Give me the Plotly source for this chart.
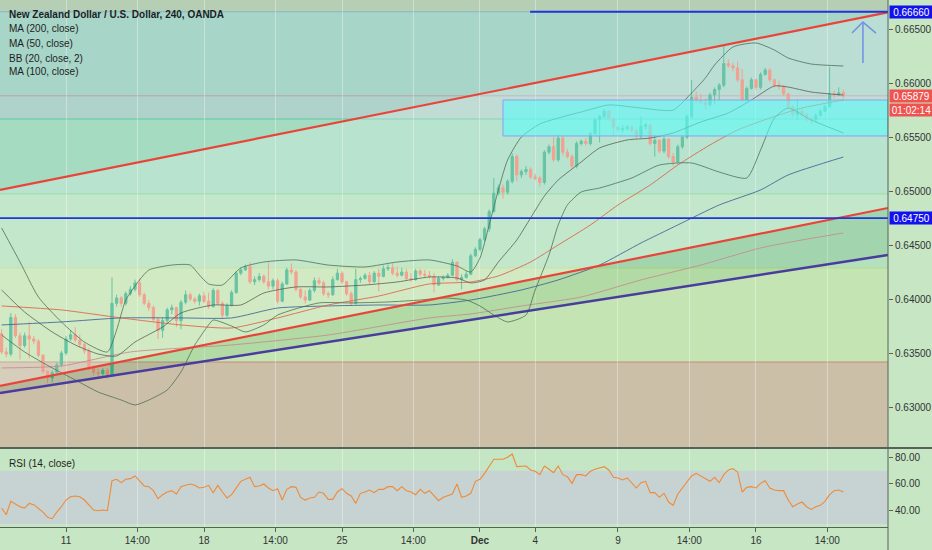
import pandas as pd
import plotly.graph_objects as go
from plotly.subplots import make_subplots


# NZDUSD 240 (OANDA) - 4h candles, weekends skipped
times = [t for t in pd.date_range('2019-11-06 16:00', '2019-12-19 04:00', freq='4h') if t.dayofweek < 5]
view_start, view_end = '2019-11-06 14:36', '2019-12-20 18:48'

opens = [
    0.6368, 0.6351, 0.6349, 0.6383, 0.6366, 0.6357, 0.6366, 0.6363, 0.6361, 0.6348,
    0.6333, 0.6327, 0.6332, 0.6339, 0.6350, 0.6363, 0.6367, 0.6362, 0.6358, 0.6352,
    0.6337, 0.6332, 0.6331, 0.6334, 0.6330, 0.6396, 0.6401, 0.6396, 0.6405, 0.6409,
    0.6415, 0.6404, 0.6396, 0.6392, 0.6381, 0.6371, 0.6380, 0.6390, 0.6392, 0.6380,
    0.6397, 0.6404, 0.6400, 0.6398, 0.6403, 0.6398, 0.6393, 0.6408, 0.6396, 0.6385,
    0.6394, 0.6406, 0.6424, 0.6427, 0.6430, 0.6416, 0.6418, 0.6421, 0.6416, 0.6412,
    0.6417, 0.6398, 0.6414, 0.6427, 0.6425, 0.6409, 0.6402, 0.6399, 0.6408, 0.6417,
    0.6415, 0.6405, 0.6404, 0.6418, 0.6424, 0.6416, 0.6405, 0.6396, 0.6418, 0.6419,
    0.6422, 0.6416, 0.6424, 0.6421, 0.6428, 0.6429, 0.6424, 0.6422, 0.6425, 0.6419,
    0.6418, 0.6426, 0.6423, 0.6422, 0.6421, 0.6413, 0.6419, 0.6420, 0.6422, 0.6434,
    0.6418, 0.6420, 0.6423, 0.6440, 0.6446, 0.6455, 0.6465, 0.6481, 0.6498, 0.6503,
    0.6499, 0.6509, 0.6532, 0.6515, 0.6518, 0.6520, 0.6513, 0.6512, 0.6508, 0.6536,
    0.6541, 0.6529, 0.6549, 0.6536, 0.6532, 0.6523, 0.6544, 0.6546, 0.6544, 0.6553,
    0.6566, 0.6569, 0.6574, 0.6567, 0.6559, 0.6557, 0.6558, 0.6559, 0.6556, 0.6551,
    0.6560, 0.6561, 0.6544, 0.6547, 0.6537, 0.6548, 0.6532, 0.6527, 0.6541, 0.6550,
    0.6569, 0.6587, 0.6584, 0.6582, 0.6580, 0.6589, 0.6594, 0.6598, 0.6618, 0.6616,
    0.6614, 0.6603, 0.6584, 0.6595, 0.6603, 0.6596, 0.6608, 0.6612, 0.6603, 0.6598,
    0.6597, 0.6590, 0.6578, 0.6571, 0.6574, 0.6571, 0.6567, 0.6566, 0.6570, 0.6574,
    0.6578, 0.6590, 0.6589, 0.6591,
]
highs = [
    0.6372, 0.6355, 0.6387, 0.6386, 0.6369, 0.6369, 0.6379, 0.6366, 0.6363, 0.6349,
    0.6334, 0.6334, 0.6341, 0.6352, 0.6366, 0.6371, 0.6374, 0.6367, 0.6360, 0.6355,
    0.6339, 0.6335, 0.6336, 0.6336, 0.6420, 0.6404, 0.6403, 0.6407, 0.6412, 0.6418,
    0.6419, 0.6406, 0.6399, 0.6394, 0.6383, 0.6383, 0.6392, 0.6395, 0.6393, 0.6399,
    0.6408, 0.6406, 0.6402, 0.6405, 0.6407, 0.6406, 0.6410, 0.6409, 0.6398, 0.6396,
    0.6408, 0.6426, 0.6429, 0.6432, 0.6434, 0.6421, 0.6424, 0.6423, 0.6434, 0.6419,
    0.6419, 0.6416, 0.6429, 0.6433, 0.6427, 0.6410, 0.6408, 0.6410, 0.6420, 0.6420,
    0.6417, 0.6407, 0.6421, 0.6428, 0.6426, 0.6417, 0.6407, 0.6428, 0.6421, 0.6424,
    0.6425, 0.6426, 0.6428, 0.6431, 0.6432, 0.6433, 0.6430, 0.6429, 0.6428, 0.6424,
    0.6428, 0.6428, 0.6427, 0.6426, 0.6424, 0.6421, 0.6422, 0.6424, 0.6437, 0.6435,
    0.6423, 0.6426, 0.6442, 0.6448, 0.6457, 0.6467, 0.6483, 0.6512, 0.6506, 0.6506,
    0.6511, 0.6535, 0.6534, 0.6520, 0.6523, 0.6522, 0.6516, 0.6514, 0.6538, 0.6543,
    0.6550, 0.6552, 0.6551, 0.6539, 0.6534, 0.6546, 0.6548, 0.6549, 0.6555, 0.6568,
    0.6571, 0.6576, 0.6575, 0.6568, 0.6560, 0.6561, 0.6561, 0.6561, 0.6558, 0.6569,
    0.6563, 0.6562, 0.6552, 0.6548, 0.6551, 0.6549, 0.6535, 0.6543, 0.6552, 0.6571,
    0.6603, 0.6592, 0.6590, 0.6586, 0.6591, 0.6596, 0.6600, 0.6635, 0.6622, 0.6619,
    0.6620, 0.6613, 0.6597, 0.6605, 0.6604, 0.6610, 0.6614, 0.6614, 0.6604, 0.6602,
    0.6598, 0.6591, 0.6580, 0.6585, 0.6577, 0.6573, 0.6569, 0.6572, 0.6576, 0.6580,
    0.6615, 0.6593, 0.6596, 0.6594,
]
lows = [
    0.6349, 0.6346, 0.6347, 0.6364, 0.6344, 0.6355, 0.6345, 0.6358, 0.6346, 0.6331,
    0.6322, 0.6323, 0.6330, 0.6337, 0.6348, 0.6361, 0.6360, 0.6355, 0.6349, 0.6334,
    0.6329, 0.6327, 0.6329, 0.6326, 0.6328, 0.6393, 0.6393, 0.6394, 0.6403, 0.6407,
    0.6402, 0.6394, 0.6389, 0.6379, 0.6363, 0.6364, 0.6378, 0.6386, 0.6374, 0.6372,
    0.6395, 0.6398, 0.6396, 0.6394, 0.6396, 0.6391, 0.6392, 0.6394, 0.6382, 0.6383,
    0.6393, 0.6405, 0.6422, 0.6426, 0.6414, 0.6413, 0.6416, 0.6414, 0.6409, 0.6409,
    0.6396, 0.6397, 0.6413, 0.6423, 0.6407, 0.6400, 0.6396, 0.6398, 0.6406, 0.6413,
    0.6403, 0.6401, 0.6403, 0.6417, 0.6414, 0.6403, 0.6394, 0.6395, 0.6415, 0.6418,
    0.6414, 0.6415, 0.6407, 0.6420, 0.6426, 0.6422, 0.6420, 0.6421, 0.6417, 0.6416,
    0.6417, 0.6421, 0.6420, 0.6419, 0.6406, 0.6412, 0.6417, 0.6419, 0.6421, 0.6416,
    0.6409, 0.6419, 0.6422, 0.6439, 0.6444, 0.6453, 0.6462, 0.6480, 0.6496, 0.6493,
    0.6497, 0.6507, 0.6509, 0.6512, 0.6515, 0.6511, 0.6510, 0.6504, 0.6506, 0.6534,
    0.6527, 0.6527, 0.6533, 0.6530, 0.6521, 0.6521, 0.6542, 0.6542, 0.6542, 0.6552,
    0.6545, 0.6567, 0.6565, 0.6551, 0.6555, 0.6554, 0.6556, 0.6554, 0.6549, 0.6549,
    0.6557, 0.6542, 0.6532, 0.6535, 0.6535, 0.6530, 0.6523, 0.6526, 0.6539, 0.6548,
    0.6567, 0.6581, 0.6580, 0.6575, 0.6578, 0.6580, 0.6584, 0.6596, 0.6614, 0.6611,
    0.6601, 0.6582, 0.6583, 0.6594, 0.6594, 0.6594, 0.6607, 0.6601, 0.6596, 0.6594,
    0.6588, 0.6576, 0.6568, 0.6566, 0.6569, 0.6564, 0.6562, 0.6564, 0.6569, 0.6573,
    0.6577, 0.6586, 0.6588, 0.6586,
]
closes = [
    0.6351, 0.6349, 0.6383, 0.6366, 0.6357, 0.6366, 0.6363, 0.6361, 0.6348, 0.6333,
    0.6327, 0.6332, 0.6339, 0.6350, 0.6363, 0.6367, 0.6362, 0.6358, 0.6352, 0.6337,
    0.6332, 0.6331, 0.6334, 0.6330, 0.6396, 0.6401, 0.6396, 0.6405, 0.6409, 0.6415,
    0.6404, 0.6396, 0.6392, 0.6381, 0.6371, 0.6380, 0.6390, 0.6392, 0.6380, 0.6397,
    0.6404, 0.6400, 0.6398, 0.6403, 0.6398, 0.6393, 0.6408, 0.6396, 0.6385, 0.6394,
    0.6406, 0.6424, 0.6427, 0.6430, 0.6416, 0.6418, 0.6421, 0.6416, 0.6412, 0.6417,
    0.6398, 0.6414, 0.6427, 0.6425, 0.6409, 0.6402, 0.6399, 0.6408, 0.6417, 0.6415,
    0.6405, 0.6404, 0.6418, 0.6424, 0.6416, 0.6405, 0.6396, 0.6418, 0.6419, 0.6422,
    0.6416, 0.6424, 0.6421, 0.6428, 0.6429, 0.6424, 0.6422, 0.6425, 0.6419, 0.6418,
    0.6426, 0.6423, 0.6422, 0.6421, 0.6413, 0.6419, 0.6420, 0.6422, 0.6434, 0.6418,
    0.6420, 0.6423, 0.6440, 0.6446, 0.6455, 0.6465, 0.6481, 0.6498, 0.6503, 0.6499,
    0.6509, 0.6532, 0.6515, 0.6518, 0.6520, 0.6513, 0.6512, 0.6508, 0.6536, 0.6541,
    0.6529, 0.6549, 0.6536, 0.6532, 0.6523, 0.6544, 0.6546, 0.6544, 0.6553, 0.6566,
    0.6569, 0.6574, 0.6567, 0.6559, 0.6557, 0.6558, 0.6559, 0.6556, 0.6551, 0.6560,
    0.6561, 0.6544, 0.6547, 0.6537, 0.6548, 0.6532, 0.6527, 0.6541, 0.6550, 0.6569,
    0.6587, 0.6584, 0.6582, 0.6580, 0.6589, 0.6594, 0.6598, 0.6618, 0.6616, 0.6614,
    0.6603, 0.6584, 0.6595, 0.6603, 0.6596, 0.6608, 0.6612, 0.6603, 0.6598, 0.6597,
    0.6590, 0.6578, 0.6571, 0.6574, 0.6571, 0.6567, 0.6566, 0.6570, 0.6574, 0.6578,
    0.6590, 0.6589, 0.6591, 0.6588,
]
rsi = [
    42, 37, 47, 45, 43, 42, 45.5, 44.5, 42, 39,
    35, 34, 39, 43, 48, 50.5, 51, 50.5, 48, 44,
    40.5, 40, 40.5, 40, 62.5, 63.5, 61, 63.5, 64, 66,
    62, 58.5, 58, 55, 49, 52, 54, 55, 52.5, 58,
    59, 60, 59, 57, 57.5, 59, 53.5, 59, 54, 49.5,
    52, 57, 62, 63.5, 65, 58, 58.5, 60, 57, 55,
    56.5, 48, 56, 58, 57.5, 50, 48, 49.5, 50, 54,
    53, 48.5, 48.5, 54, 56.5, 53, 51, 45.5, 53, 54,
    55.5, 53.5, 56, 56, 58, 58, 55, 58, 55, 54,
    52, 56, 53, 55, 51, 47.5, 50, 51, 52.5, 60,
    50, 51, 53, 62, 63.5, 68, 73.5, 78.5, 78.5, 78.5,
    80, 82.5, 73, 73, 73.5, 70.5, 69.5, 67, 73.5, 71,
    68.5, 73.5, 67, 65.5, 60.5, 67, 67, 66, 69.5, 71,
    72, 73, 70.5, 65, 64.5, 63, 64.5, 61, 57, 61,
    62, 53.5, 53.5, 50, 53, 46.5, 44, 52.5, 57, 61,
    66, 68, 66, 63.5, 62, 65, 61, 67, 70.5, 71.5,
    69, 54, 57.5, 58, 57, 60.5, 62.5, 57, 55.5, 55,
    55, 48, 43, 45, 46.5, 43, 41, 43, 44, 47,
    52, 55, 55.5, 54,
]

# indicator readings (candle index -> value)
bb_upper_idx = [0, 4, 8, 13, 18, 23, 25, 27, 30, 32, 37, 41, 43, 45, 48, 52, 57, 64, 71, 79,
                86, 93, 99, 102, 104, 106, 108, 110, 113, 117, 121, 126, 132, 139, 146, 150,
                153, 155, 159, 164, 168, 171, 176, 183]
bb_upper = [0.64658, 0.64343, 0.64019, 0.63788, 0.63602, 0.63510, 0.63714, 0.63991, 0.64177, 0.64269,
            0.64315, 0.64315, 0.64223, 0.64140, 0.64130, 0.64288, 0.64343, 0.64362, 0.64315, 0.64297,
            0.64343, 0.64362, 0.64306, 0.64250, 0.64380, 0.64686, 0.65010, 0.65288, 0.65501, 0.65621,
            0.65676, 0.65732, 0.65797, 0.65769, 0.65750, 0.65908, 0.66047, 0.66167, 0.66334, 0.66371,
            0.66306, 0.66232, 0.66176, 0.66158]
bb_lower_idx = [0, 5, 11, 16, 21, 26, 29, 32, 36, 39, 42, 45, 46, 50, 53, 57, 60, 69, 76, 84,
                91, 96, 101, 104, 107, 110, 114, 116, 119, 121, 123, 126, 130, 137, 143, 150,
                156, 162, 165, 168, 171, 176, 183]
bb_lower = [0.63667, 0.63510, 0.63362, 0.63251, 0.63139, 0.63065, 0.63019, 0.63065, 0.63158, 0.63325,
            0.63575, 0.63760, 0.63806, 0.63750, 0.63695, 0.63760, 0.63852, 0.63964, 0.63964, 0.63973,
            0.63991, 0.64010, 0.63991, 0.63936, 0.63852, 0.63788, 0.63852, 0.64084, 0.64408, 0.64686,
            0.64871, 0.64991, 0.65028, 0.65121, 0.65241, 0.65260, 0.65176, 0.65121, 0.65380, 0.65676,
            0.65769, 0.65658, 0.65538]
bb_mid_idx = [0, 5, 11, 16, 21, 25, 29, 35, 39, 46, 52, 57, 64, 71, 79, 86, 93, 99, 102, 105,
              108, 112, 115, 118, 121, 126, 130, 136, 141, 146, 152, 158, 163, 168, 171, 176, 183]
bb_mid = [0.64084, 0.63880, 0.63695, 0.63575, 0.63491, 0.63473, 0.63602, 0.63741, 0.63871, 0.63945,
          0.63945, 0.64056, 0.64112, 0.64112, 0.64130, 0.64158, 0.64204, 0.64195, 0.64149, 0.64177,
          0.64343, 0.64547, 0.64751, 0.64954, 0.65102, 0.65269, 0.65399, 0.65473, 0.65491, 0.65538,
          0.65640, 0.65723, 0.65843, 0.65973, 0.65963, 0.65917, 0.65889]
ma50_idx = [0, 13, 26, 39, 50, 60, 71, 82, 93, 102, 108, 115, 121, 128, 134, 141, 147, 154, 160,
            167, 174, 183]
ma50 = [0.63936, 0.63899, 0.63825, 0.63760, 0.63732, 0.63825, 0.63945, 0.64028, 0.64140, 0.64158,
        0.64214, 0.64343, 0.64501, 0.64686, 0.64871, 0.65056, 0.65241, 0.65427, 0.65565, 0.65676,
        0.65769, 0.65843]
ma100_idx = [0, 13, 26, 39, 50, 60, 71, 82, 93, 102, 113, 121, 130, 139, 147, 156, 165, 171, 183]
ma100 = [0.63760, 0.63788, 0.63825, 0.63825, 0.63825, 0.63917, 0.63936, 0.63945, 0.63945, 0.63991,
         0.64084, 0.64177, 0.64315, 0.64519, 0.64686, 0.64871, 0.65010, 0.65149, 0.65315]
ma200_idx = [0, 13, 28, 50, 71, 93, 102, 113, 126, 139, 152, 165, 174, 183]
ma200 = [0.63362, 0.63380, 0.63510, 0.63575, 0.63667, 0.63825, 0.63862, 0.63936, 0.64019, 0.64177,
         0.64315, 0.64473, 0.64547, 0.64612]

# drawings
trend_times = [view_start, view_end]
channel_top = [0.65010, 0.66654]
channel_bottom = [0.63195, 0.64843]
support_line = [0.63130, 0.64408]
resistance = 0.6666
resistance_from = '2019-12-03 19:36'
support = 0.6475
last_price = 0.65879
countdown = '01:02:14'
zone_edges = [0.6255, 0.63417, 0.64288, 0.64973, 0.65667, 0.65882, 0.6666, 0.6685]
box_times = ['2019-12-02 20:00', view_end]
box_prices = [0.65510, 0.65843]
arrow_times = ['2019-12-19 21:00', '2019-12-19 21:00', None,
               '2019-12-19 11:30', '2019-12-19 21:00', '2019-12-20 08:20']
arrow_prices = [0.66185, 0.66565, None, 0.66463, 0.66565, 0.66463]

price_ticks = [0.630, 0.635, 0.640, 0.645, 0.650, 0.655, 0.660, 0.665]
rsi_ticks = [40, 60, 80]
tick_times = ['2019-11-11', '2019-11-13 14:00', '2019-11-18', '2019-11-20 14:00', '2019-11-25',
              '2019-11-27 14:00', '2019-12-02', '2019-12-04', '2019-12-09', '2019-12-11 14:00',
              '2019-12-16', '2019-12-18 14:00']
tick_text = ['11', '14:00', '18', '14:00', '25', '14:00', '<b>Dec</b>', '4', '9', '14:00', '16', '14:00']

assert len(times) == len(closes) == len(rsi)


def at(idx):
    return [times[k] for k in idx]


FONT = 'Liberation Sans, Arial, sans-serif'

fig = make_subplots(rows=2, cols=1, shared_xaxes=True, vertical_spacing=0.004)

# channel fills
fig.add_trace(go.Scatter(
    x=trend_times + trend_times[::-1],
    y=channel_top + channel_bottom[::-1],
    fill='toself', fillcolor='rgba(255,255,255,0.22)',
    mode='lines', line=dict(width=0), hoverinfo='skip', showlegend=False
), row=1, col=1)

fig.add_trace(go.Scatter(
    x=trend_times + trend_times[::-1],
    y=channel_bottom + support_line[::-1],
    fill='toself', fillcolor='rgba(40,140,60,0.12)',
    mode='lines', line=dict(width=0), hoverinfo='skip', showlegend=False
), row=1, col=1)

# candles
fig.add_trace(go.Candlestick(
    x=times, open=opens, high=highs, low=lows, close=closes,
    increasing=dict(line=dict(color='#3cb38b', width=1), fillcolor='#3cb38b'),
    decreasing=dict(line=dict(color='#ee8873', width=1), fillcolor='#ee8873'),
    whiskerwidth=0, showlegend=False, name='NZDUSD'
), row=1, col=1)

# indicators
lines = [
    (ma200_idx, ma200, 'rgba(196,140,140,0.85)'),
    (ma100_idx, ma100, 'rgba(60,100,150,0.85)'),
    (ma50_idx, ma50, 'rgba(222,96,72,0.85)'),
    (bb_upper_idx, bb_upper, 'rgba(70,105,80,0.75)'),
    (bb_lower_idx, bb_lower, 'rgba(70,105,80,0.75)'),
    (bb_mid_idx, bb_mid, 'rgba(80,90,78,0.75)'),
]
for idx, vals, color in lines:
    fig.add_trace(go.Scatter(
        x=at(idx), y=vals, mode='lines',
        line=dict(color=color, width=1, shape='spline', smoothing=0.6),
        hoverinfo='skip', showlegend=False
    ), row=1, col=1)

# trend lines
for vals, color, w in [(channel_top, '#e8453a', 2.2), (channel_bottom, '#e8453a', 2.2),
                       (support_line, '#4a3c9e', 2.5)]:
    fig.add_trace(go.Scatter(
        x=trend_times, y=vals, mode='lines', line=dict(color=color, width=w),
        hoverinfo='skip', showlegend=False
    ), row=1, col=1)

# arrow
fig.add_trace(go.Scatter(
    x=arrow_times, y=arrow_prices, mode='lines',
    line=dict(color='#7394e4', width=1.6), connectgaps=False,
    hoverinfo='skip', showlegend=False
), row=1, col=1)

# rsi
fig.add_trace(go.Scatter(
    x=times, y=rsi, mode='lines', line=dict(color='#ef8a3a', width=1.1),
    hoverinfo='skip', showlegend=False
), row=2, col=1)


# background zones, levels
zone_colors = ['#cbbfa8', '#c4e5b3', '#b3e0bd', '#a5dbc0', '#afd3ca', '#a7d5c7', '#b6cfb4']
edge_colors = [None, '#c98a78', '#b8dc84', '#80d488', '#5ec9a6', '#b5a2ad', '#86b4cc', None]

shapes = []
for k, c in enumerate(zone_colors):
    shapes.append(dict(type='rect', xref='paper', yref='y', x0=0, x1=1,
                       y0=zone_edges[k], y1=zone_edges[k + 1],
                       fillcolor=c, line=dict(width=0), layer='below'))
for k, c in enumerate(edge_colors):
    if c:
        shapes.append(dict(type='line', xref='paper', yref='y', x0=0, x1=1,
                           y0=zone_edges[k], y1=zone_edges[k],
                           line=dict(color=c, width=1), layer='below'))

shapes.append(dict(type='line', xref='x', yref='y', x0=resistance_from, x1=view_end,
                   y0=resistance, y1=resistance, line=dict(color='#1f35d8', width=1.8)))
shapes.append(dict(type='line', xref='paper', yref='y', x0=0, x1=1,
                   y0=support, y1=support, line=dict(color='#1f35d8', width=1.8)))

# cyan box
shapes.append(dict(type='rect', xref='x', yref='y', x0=box_times[0], x1=box_times[1],
                   y0=box_prices[0], y1=box_prices[1],
                   fillcolor='rgba(90,252,248,0.6)', line=dict(color='#8f9ff0', width=1),
                   layer='above'))

# rsi band
shapes.append(dict(type='rect', xref='paper', yref='y2', x0=0, x1=1, y0=30, y1=70,
                   fillcolor='#c7d3d2', line=dict(width=0), layer='below'))

# pane separator and right axis line
shapes.append(dict(type='line', xref='paper', yref='paper', x0=0, x1=1.06, y0=0.150, y1=0.150,
                   line=dict(color='#56625a', width=2)))
shapes.append(dict(type='line', xref='paper', yref='paper', x0=1, x1=1, y0=-0.06, y1=1,
                   line=dict(color='#56625a', width=1)))


annotations = []
legend_rows = [
    ('<b>New Zealand Dollar / U.S. Dollar, 240, OANDA</b>', 0.9734),
    ('MA (200, close)', 0.9450),
    ('MA (50, close)', 0.9175),
    ('BB (20, close, 2)', 0.8899),
    ('MA (100, close)', 0.8634),
    ('RSI (14, close)', 0.1214),
]
for text, y in legend_rows:
    annotations.append(dict(text=text, xref='paper', yref='paper', x=0.0079, y=y,
                            xanchor='left', yanchor='middle', showarrow=False,
                            font=dict(family=FONT, size=10, color='#1e1e1e')))

for text, price, bg, shift in [
    ('%.5f' % resistance, resistance, '#1212ee', 0),
    ('%.5f' % support, support, '#1212ee', 0),
    ('%.5f' % last_price, last_price, '#ef5350', 0),
    (countdown, last_price, '#ef5350', -14),
]:
    annotations.append(dict(text=text, xref='paper', yref='y', x=1, y=price,
                            xanchor='left', yanchor='middle', xshift=1, yshift=shift,
                            showarrow=False, bgcolor=bg, width=43, height=12,
                            borderpad=0, align='center',
                            font=dict(family=FONT, size=10, color='white')))


fig.update_layout(
    width=932, height=550,
    margin=dict(l=0, r=44, t=0, b=23),
    paper_bgcolor='#c6e6c4',
    plot_bgcolor='#c5e6c5',
    showlegend=False,
    font=dict(family=FONT, size=10, color='#333333'),
    shapes=shapes,
    annotations=annotations,
    hovermode=False,
)

fig.update_xaxes(
    type='date', range=[view_start, view_end],
    rangebreaks=[dict(bounds=['sat', 'mon'])],
    tickvals=tick_times, ticktext=tick_text,
    showgrid=True, gridcolor='rgba(255,255,255,0.35)', gridwidth=1,
    zeroline=False, rangeslider=dict(visible=False),
)
fig.update_layout(
    xaxis=dict(showticklabels=False, ticks=''),
    xaxis2=dict(ticks='outside', ticklen=4, tickcolor='#56625a',
                showline=True, linecolor='#56625a', linewidth=1,
                tickfont=dict(family=FONT, size=10, color='#333333')),
    yaxis=dict(domain=[0.1518, 1], side='right', range=[0.6263, 0.66769],
               tickvals=price_ticks, tickformat='.5f',
               ticks='outside', ticklen=4, tickcolor='#56625a',
               showgrid=False, zeroline=False, showline=False,
               tickfont=dict(family=FONT, size=10, color='#333333')),
    yaxis2=dict(domain=[0, 0.148], side='right', range=[27.8, 86.2],
                tickvals=rsi_ticks, tickformat='.2f',
                ticks='outside', ticklen=4, tickcolor='#56625a',
                showgrid=False, zeroline=False, showline=False,
                tickfont=dict(family=FONT, size=10, color='#333333')),
)

fig.write_html('out.html', config={'displayModeBar': False},
               post_script="document.body.style.margin='0';")
